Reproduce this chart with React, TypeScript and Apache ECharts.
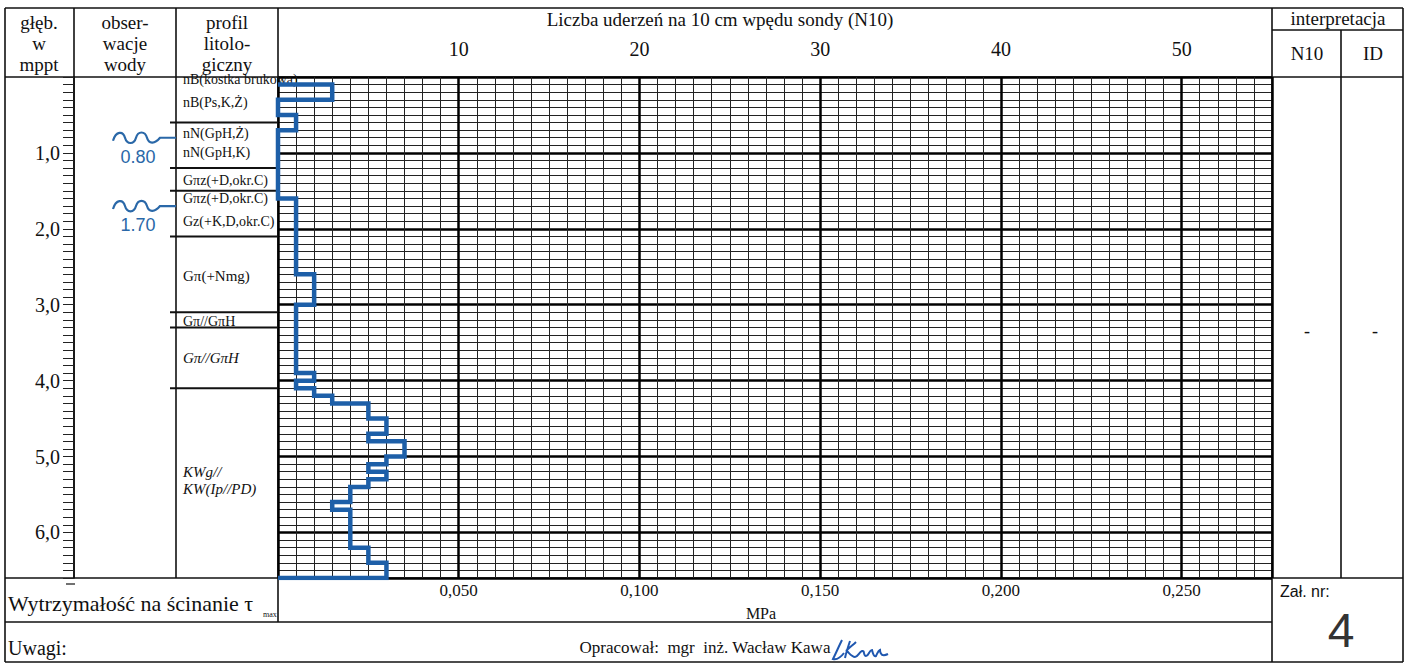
import React, { useEffect, useRef } from 'react';
import * as echarts from 'echarts';

// ---------------- data ----------------
const n10TickValues = [10, 20, 30, 40, 50];
const n10TickLabels = ['10', '20', '30', '40', '50'];
const tauTickLabels = ['0,050', '0,100', '0,150', '0,200', '0,250'];
const depthTickValues = [1, 2, 3, 4, 5, 6];
const depthTickLabels = ['1,0', '2,0', '3,0', '4,0', '5,0', '6,0'];

// probe: N10 per 0.1 m, interval i spans probeDepthBreaks[i]..probeDepthBreaks[i+1]
const probeDepthBreaks = [0.1, 0.3, 0.5, 0.7, 1.6, 2.6, 3.0, 3.9, 4.0, 4.1, 4.2, 4.3, 4.5, 4.7, 4.8, 5.0, 5.1, 5.2, 5.3, 5.4, 5.6, 5.7, 6.2, 6.4, 6.6];
const probeN10 = [3, 0, 1, 0, 1, 2, 1, 2, 1, 2, 3, 5, 6, 5, 7, 6, 5, 6, 5, 4, 3, 4, 5, 6];

const layerBoundaries = [0.6, 1.2, 1.5, 2.1, 3.1, 3.3, 4.1];
const layerTexts = ['nB(kostka brukowa)', 'nB(Ps,K,Ż)', 'nN(GpH,Ż)', 'nN(GpH,K)', 'Gπz(+D,okr.C)', 'Gπz(+D,okr.C)', 'Gz(+K,D,okr.C)', 'Gπ(+Nmg)', 'Gπ//GπH', 'Gπ//GπH', 'KWg//', 'KW(Ip//PD)'];
const layerTextDepths = [0.03, 0.33, 0.74, 1.0, 1.36, 1.6, 1.91, 2.62, 3.22, 3.7, 5.2, 5.43];
const layerTextItalic = [false, false, false, false, false, false, false, false, false, true, true, true];

const waterDepths = [0.8, 1.7];
const waterLabels = ['0.80', '1.70'];

// ---------------- styling ----------------
const SERIF = "'Liberation Serif','Times New Roman',serif";
const SANS = "'Liberation Sans',Arial,sans-serif";
const INK = '#111111';
const BLUE = '#1d5fa8';
const WATER_BLUE = '#2a68a8';

const SIGN_PATH =
  'M10 3 C7 9 4 16 1 22 C5 23 9 20 12 16 M18 4 C16 10 14 16 13 21 M14 14 C18 10 21 8 24 5 M15 14 C18 17 20 20 23 20 C26 20 27 15 30 14 C33 13 31 19 34 19 C37 19 37 13 40 13 C41 17 42 20 44 19 C46 15 46 14 48 13 C48 17 50 20 56 17';
echarts.graphic.registerShape('signature', echarts.graphic.extendPath(SIGN_PATH, {}));

const WAVE_PATH = 'M0 3 C3 -7 10 -7 12 0 C14 7 21 7 23 0 C25 -7 32 -7 34 0 C36 7 42 6 47 0 L63 0';

function line(x1: number, y1: number, x2: number, y2: number, w = 1.6) {
  return { type: 'line', silent: true, shape: { x1, y1, x2, y2 }, style: { stroke: INK, lineWidth: w } };
}
function text(t: string, x: number, y: number, size: number, opts: any = {}) {
  return {
    type: 'text',
    silent: true,
    x,
    y,
    style: {
      text: t,
      fill: opts.fill || INK,
      font: `${opts.italic ? 'italic ' : ''}${size}px ${opts.family || SERIF}`,
      textAlign: opts.align || 'left',
      textVerticalAlign: 'middle',
      lineHeight: opts.lineHeight,
    },
  };
}

function tickLabel(values: number[], labels: string[]) {
  return (v: number) => {
    for (let i = 0; i < values.length; i++) if (Math.abs(values[i] - v) < 1e-6) return labels[i];
    return '';
  };
}

export default function App() {
  const ref = useRef<HTMLDivElement>(null);
  useEffect(() => {
    if (!ref.current) return;
    const chart = echarts.init(ref.current, null, { renderer: 'svg' });

    const probePoints: number[][] = [[0, probeDepthBreaks[0]]];
    for (let i = 0; i < probeN10.length; i++) {
      probePoints.push([probeN10[i], probeDepthBreaks[i]]);
      probePoints.push([probeN10[i], probeDepthBreaks[i + 1]]);
    }
    probePoints.push([0, probeDepthBreaks[probeDepthBreaks.length - 1]]);

    const hidden = { axisLine: { show: false }, axisTick: { show: false }, axisLabel: { show: false }, splitLine: { show: false } };

    const option: any = {
      animation: false,
      backgroundColor: '#ffffff',
      grid: [
        { left: 278, top: 77, width: 994, height: 501 },
        { left: 74, top: 77, width: 1, height: 501 },
        { left: 170, top: 77, width: 108, height: 501 },
        { left: 74, top: 77, width: 102, height: 501 },
      ],
      xAxis: [
        { gridIndex: 0, type: 'value', min: 0, max: 55, interval: 1, ...hidden, splitLine: { show: true, lineStyle: { color: '#222', width: 1 } } },
        {
          gridIndex: 0, type: 'value', min: 0, max: 55, interval: 10, position: 'top',
          axisLine: { show: false }, axisTick: { show: false },
          axisLabel: { show: true, margin: 18, fontFamily: SERIF, fontSize: 20, color: INK, formatter: tickLabel(n10TickValues, n10TickLabels) },
          splitLine: { show: true, lineStyle: { color: '#000', width: 2.5 } },
        },
        {
          gridIndex: 0, type: 'value', min: 0, max: 55, interval: 10, position: 'bottom',
          axisLine: { show: false }, axisTick: { show: false },
          axisLabel: { show: true, margin: 4, fontFamily: SERIF, fontSize: 17, color: INK, formatter: tickLabel(n10TickValues, tauTickLabels) },
          splitLine: { show: false },
        },
        { gridIndex: 1, type: 'value', min: 0, max: 1, ...hidden },
        { gridIndex: 2, type: 'value', min: 0, max: 108, ...hidden },
        { gridIndex: 3, type: 'value', min: 0, max: 102, ...hidden },
      ],
      yAxis: [
        { gridIndex: 0, type: 'value', inverse: true, min: 0, max: 6.6, interval: 0.1, ...hidden, splitLine: { show: true, lineStyle: { color: '#222', width: 1 } } },
        { gridIndex: 0, type: 'value', inverse: true, min: 0, max: 6.6, interval: 1, ...hidden, splitLine: { show: true, lineStyle: { color: '#000', width: 2.5 } } },
        {
          gridIndex: 1, type: 'value', inverse: true, min: 0, max: 6.6, interval: 0.1, position: 'left',
          axisLine: { show: true, lineStyle: { color: INK, width: 1.6 } },
          axisTick: { show: true, inside: false, length: 11, lineStyle: { color: '#222', width: 1 } },
          axisLabel: { show: true, margin: 14, fontFamily: SERIF, fontSize: 20, color: INK, formatter: tickLabel(depthTickValues, depthTickLabels) },
          splitLine: { show: false },
        },
        { gridIndex: 2, type: 'value', inverse: true, min: 0, max: 6.6, ...hidden },
        { gridIndex: 3, type: 'value', inverse: true, min: 0, max: 6.6, ...hidden },
      ],
      series: [
        {
          type: 'line', xAxisIndex: 0, yAxisIndex: 0, data: probePoints, showSymbol: false, symbol: 'none',
          lineStyle: { color: BLUE, width: 4.5, join: 'miter' }, z: 10,
        },
        {
          type: 'custom', xAxisIndex: 4, yAxisIndex: 3,
          data: layerBoundaries.map((d) => [0, d]),
          renderItem: (params: any, api: any) => {
            const d = api.value(1);
            const p0 = api.coord([0, d]);
            const p1 = api.coord([108, d]);
            return { type: 'line', shape: { x1: p0[0], y1: p0[1], x2: p1[0], y2: p1[1] }, style: { stroke: INK, lineWidth: 2 } };
          },
          z: 5,
        },
        {
          type: 'custom', xAxisIndex: 4, yAxisIndex: 3,
          data: layerTextDepths.map((d) => [13, d]),
          renderItem: (params: any, api: any) => {
            const i = params.dataIndex;
            const p = api.coord([api.value(0), api.value(1)]);
            const italic = layerTextItalic[i];
            const size = italic ? 15 : i === 7 ? 15 : 14;
            return {
              type: 'text', x: p[0], y: p[1],
              style: { text: layerTexts[i], fill: INK, font: `${italic ? 'italic ' : ''}${size}px ${SERIF}`, textAlign: 'left', textVerticalAlign: 'middle' },
            };
          },
          z: 6,
        },
        {
          type: 'custom', xAxisIndex: 5, yAxisIndex: 4,
          data: waterDepths.map((d) => [39, d]),
          renderItem: (params: any, api: any) => {
            const i = params.dataIndex;
            const p = api.coord([api.value(0), api.value(1)]);
            return {
              type: 'group',
              children: [
                { type: 'path', x: p[0], y: p[1], shape: { pathData: WAVE_PATH }, style: { stroke: WATER_BLUE, lineWidth: 2.2, fill: 'none' } },
                { type: 'text', x: p[0] + 25, y: p[1] + 19, style: { text: waterLabels[i], fill: WATER_BLUE, font: `18px ${SANS}`, textAlign: 'center', textVerticalAlign: 'middle' } },
              ],
            };
          },
          z: 6,
        },
      ],
      graphic: [
        // frame
        line(5, 8, 1403, 8),
        line(5, 662, 1403, 662),
        line(5, 8, 5, 662),
        line(1403, 8, 1403, 662),
        line(5, 77, 1403, 77),
        line(5, 578, 1403, 578),
        line(5, 622, 1272, 622),
        line(1272, 30, 1403, 30),
        line(74, 8, 74, 578),
        line(176, 8, 176, 578),
        line(278, 8, 278, 622),
        line(1272, 8, 1272, 662),
        line(1341, 30, 1341, 578),
        line(66, 584, 75, 584, 1.2),
        // headers
        text('głęb.\nw\nmppt', 39, 43, 19, { align: 'center', lineHeight: 21 }),
        text('obser-\nwacje\nwody', 125, 43, 19, { align: 'center', lineHeight: 21 }),
        text('profil\nlitolo-\ngiczny', 227, 43, 19, { align: 'center', lineHeight: 21 }),
        text('Liczba uderzeń na 10 cm wpędu sondy (N10)', 720, 19, 19, { align: 'center' }),
        text('interpretacja', 1338, 18, 19, { align: 'center' }),
        text('N10', 1307, 53, 19, { align: 'center' }),
        text('ID', 1373, 53, 19, { align: 'center' }),
        text('-', 1307, 331, 18, { align: 'center' }),
        text('-', 1375, 331, 18, { align: 'center' }),
        // bottom rows
        text('Wytrzymałość na ścinanie τ', 8, 603, 22),
        text('max', 263, 614, 8),
        text('MPa', 761, 613, 16, { align: 'center' }),
        text('Uwagi:', 8, 648, 20),
        text('Opracował:  mgr  inż. Wacław Kawa', 705, 647, 17, { align: 'center' }),
        text('Zał. nr:', 1280, 591, 16, { family: SANS }),
        text('4', 1341, 630, 48, { align: 'center', family: SANS, fill: '#333' }),
        { type: 'signature', x: 832, y: 637, scaleX: 1, scaleY: 1, silent: true, style: { stroke: '#2058b0', fill: 'none', lineWidth: 2 } },
      ],
    };

    chart.setOption(option);
    return () => chart.dispose();
  }, []);

  return <div ref={ref} style={{ position: 'fixed', left: 0, top: 0, width: 1408, height: 664, background: '#fff' }} />;
}
